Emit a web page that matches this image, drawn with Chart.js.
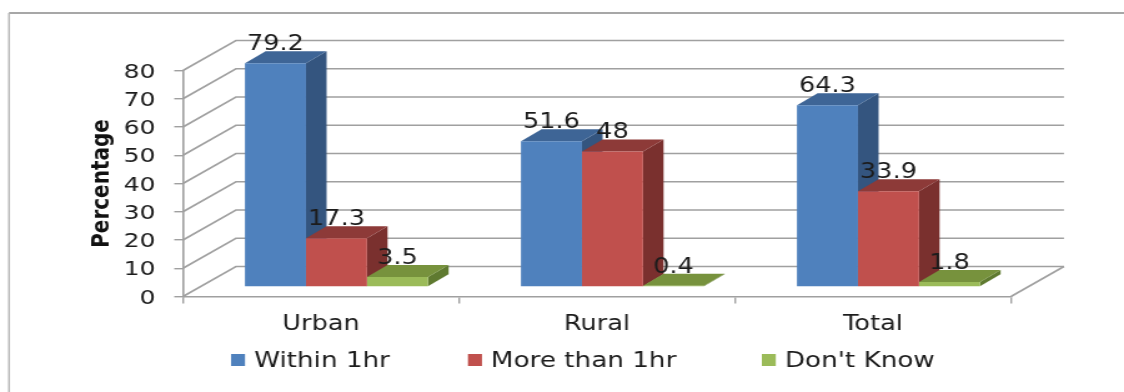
<!DOCTYPE html>
<html>
<head>
<meta charset="utf-8">
<title>Percentage by location</title>
<script src="https://cdn.jsdelivr.net/npm/chart.js@4/dist/chart.umd.min.js"></script>
<style>
    html, body { margin: 0; padding: 0; background: #fff; overflow: hidden; }
    /* the chart is laid out narrower and widened, so the lettering comes out wide */
    #wrap { width: 1124px; height: 392px; overflow: hidden; }
    #chart { display: block; transform: scaleX(1.24889); transform-origin: 0 0; }
</style>
</head>
<body>
<div id="wrap"><canvas id="chart" width="900" height="392"></canvas></div>
<script>
const categories = ['Urban', 'Rural', 'Total'];
const within1hr = [79.2, 51.6, 64.3];
const moreThan1hr = [17.3, 48, 33.9];
const dontKnow = [3.5, 0.4, 1.8];
const yTicks = [0, 10, 20, 30, 40, 50, 60, 70, 80];

const FONT = '"DejaVu Sans", Verdana, sans-serif';
const TEXT = '#1c1c1c';
const LINE = '#a0a0a0';

// depth of the whole box (floor and side wall)
const WALL_DX = 42.4, WALL_DY = -30;
// where the bars stand on the floor, and how deep each one is
const BAR_DX = 12.4, BAR_DY = -9.5;
const DEPTH_DX = 16.5, DEPTH_DY = -12;

// side and top faces per series, front face is the normal bar
const faces = [
    { side: '#34557f', top: '#3e6596' },
    { side: '#7a302e', top: '#8d3a38' },
    { side: '#5f7a30', top: '#77923d' }
];

// left edge of each legend entry
const legendX = [185, 374.7, 610];

const box3d = {
    id: 'box3d',
    beforeDraw(chart) {
        const { ctx, scales: { y }, chartArea: { left, right } } = chart;
        ctx.save();
        // outer frame of the figure
        ctx.lineWidth = 1.4;
        ctx.strokeStyle = '#8a8a8a';
        ctx.beginPath();
        ctx.moveTo(7.2, 13);
        ctx.lineTo(900, 13);
        ctx.stroke();
        ctx.strokeStyle = '#b5b5b5';
        ctx.beginPath();
        ctx.moveTo(7.2, 13);
        ctx.lineTo(7.2, 392);
        ctx.stroke();

        // back wall and left wall lines for every tick
        ctx.strokeStyle = LINE;
        ctx.lineWidth = 1.6;
        yTicks.forEach(v => {
            const py = y.getPixelForValue(v);
            ctx.beginPath();
            ctx.moveTo(left, py);
            ctx.lineTo(left + WALL_DX, py + WALL_DY);
            ctx.lineTo(right + WALL_DX, py + WALL_DY);
            ctx.stroke();
        });
        // floor edge on the right
        const py0 = y.getPixelForValue(0);
        ctx.beginPath();
        ctx.moveTo(right, py0);
        ctx.lineTo(right + WALL_DX, py0 + WALL_DY);
        ctx.stroke();
        ctx.restore();
    },
    beforeDatasetsDraw(chart) {
        // sides and tops first, left series first, the library then paints the fronts over them
        const { ctx } = chart;
        ctx.save();
        ctx.translate(BAR_DX, BAR_DY);
        chart.data.datasets.forEach((ds, i) => {
            chart.getDatasetMeta(i).data.forEach(bar => {
                const l = bar.x - bar.width / 2, r = bar.x + bar.width / 2;
                ctx.fillStyle = faces[i].side;
                ctx.beginPath();
                ctx.moveTo(r, bar.y);
                ctx.lineTo(r + DEPTH_DX, bar.y + DEPTH_DY);
                ctx.lineTo(r + DEPTH_DX, bar.base + DEPTH_DY);
                ctx.lineTo(r, bar.base);
                ctx.closePath();
                ctx.fill();
                ctx.fillStyle = faces[i].top;
                ctx.beginPath();
                ctx.moveTo(l, bar.y);
                ctx.lineTo(l + DEPTH_DX, bar.y + DEPTH_DY);
                ctx.lineTo(r + DEPTH_DX, bar.y + DEPTH_DY);
                ctx.lineTo(r, bar.y);
                ctx.closePath();
                ctx.fill();
            });
        });
        ctx.restore();
    },
    beforeDatasetDraw(chart) {
        chart.ctx.save();
        chart.ctx.translate(BAR_DX, BAR_DY);
    },
    afterDatasetDraw(chart) {
        chart.ctx.restore();
    },
    afterDatasetsDraw(chart) {
        // value labels go last so they sit over the bars
        const { ctx } = chart;
        ctx.save();
        ctx.font = '20.5px ' + FONT;
        ctx.fillStyle = TEXT;
        ctx.textAlign = 'center';
        ctx.textBaseline = 'alphabetic';
        chart.data.datasets.forEach((ds, i) => {
            chart.getDatasetMeta(i).data.forEach((bar, j) => {
                ctx.fillText(String(ds.data[j]), bar.x + BAR_DX, bar.y + BAR_DY - 13);
            });
        });

        // legend row under the axis
        ctx.font = '21px ' + FONT;
        ctx.textAlign = 'left';
        chart.data.datasets.forEach((ds, i) => {
            ctx.fillStyle = ds.backgroundColor;
            ctx.fillRect(legendX[i], 354, 11.2, 12);
            ctx.fillStyle = TEXT;
            ctx.fillText(ds.label, legendX[i] + 18.4, 367);
        });
        ctx.restore();
    }
};

new Chart(document.getElementById('chart').getContext('2d'), {
    type: 'bar',
    data: {
        labels: categories,
        datasets: [
            { label: 'Within 1hr', data: within1hr, backgroundColor: '#4f81bd' },
            { label: 'More than 1hr', data: moreThan1hr, backgroundColor: '#c0504d' },
            { label: "Don't Know", data: dontKnow, backgroundColor: '#9bbb59' }
        ]
    },
    options: {
        responsive: false,
        animation: false,
        layout: { padding: { left: 32, right: 90.5, top: 70.5, bottom: 60 } },
        categoryPercentage: 0.663,
        barPercentage: 1,
        plugins: {
            legend: { display: false },
            tooltip: { enabled: false }
        },
        scales: {
            x: {
                afterFit(scale) { scale.height = 35.5; },
                border: { color: LINE, width: 1.6 },
                grid: { drawOnChartArea: false, color: LINE, lineWidth: 1.4, tickLength: 7 },
                ticks: { color: TEXT, padding: 9, font: { family: FONT, size: 20.5 } }
            },
            y: {
                min: 0,
                max: 80,
                afterFit(scale) { scale.width = 114.5; },
                border: { color: LINE, width: 1.6 },
                grid: { drawOnChartArea: false, color: LINE, lineWidth: 1.4, tickLength: 7 },
                ticks: {
                    stepSize: 10,
                    color: TEXT,
                    padding: 15,
                    labelOffset: 2,
                    font: { family: FONT, size: 20 }
                },
                title: {
                    display: true,
                    text: 'Percentage',
                    color: '#111',
                    padding: { top: 37.5, bottom: 0 },
                    font: { family: FONT, size: 20, weight: 'bold' }
                }
            }
        }
    },
    plugins: [box3d]
});
</script>
</body>
</html>
